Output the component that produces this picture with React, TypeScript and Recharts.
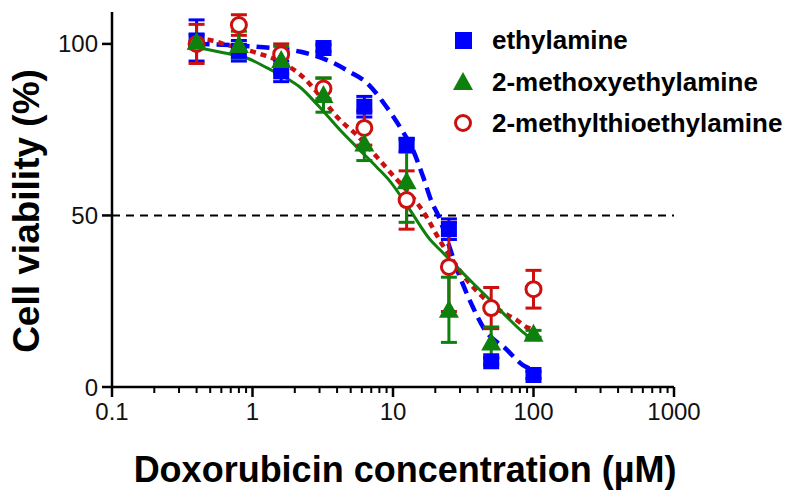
import React from 'react';
import { ComposedChart, XAxis, YAxis, Scatter, Line, ErrorBar, ReferenceLine, Legend } from 'recharts';

// concentrations (µM)
const concentrations = [0.4, 0.8, 1.6, 3.2, 6.25, 12.5, 25, 50, 100];

// measured means and error
const ethylamineMean = [101, 98, 92, 98.8, 81.7, 70.5, 46, 7.5, 3.5];
const ethylamineErr = [6, 3, 3, 1, 3, 2, 3, 1, 1];
const methoxyMean = [100.6, 99.7, 95.3, 85.1, 71, 60, 22.5, 13, 15.5];
const methoxyErr = [2, 4, 4, 5, 5, 12, 9.5, 4.5, 1];
const methylthioMean = [100, 105.5, 97, 87, 75.5, 54.5, 35, 23, 28.5];
const methylthioErr = [5.7, 3, 3, 3, 5, 8.5, 13, 6, 5.5];

// fitted curves
const ethylamineFitX = [0.4, 1.2, 2.2, 3.74, 4.94, 6.53, 8.5, 11.2, 13.9, 16.4, 19, 20.6, 30, 37, 43.7, 64.7, 84, 100];
const ethylamineFitY = [100, 99, 97.7, 94.5, 91.8, 88.6, 83, 75.8, 69, 61.2, 53.6, 50.7, 32, 23.3, 17.5, 10.8, 6.4, 5];
const methoxyFitX = [0.4, 0.62, 0.91, 1.27, 1.75, 2.16, 3.0, 4.2, 5.5, 7.7, 9.5, 13.2, 18.4, 21.6, 28.4, 37, 49, 64.7, 84, 100];
const methoxyFitY = [99, 97.4, 95.9, 93, 90, 87.5, 81.6, 74.9, 70, 64, 60, 51.6, 42.9, 40, 35, 30.3, 25.4, 20.4, 16, 13.7];
const methylthioFitX = [0.4, 0.515, 0.66, 1.19, 1.49, 2.4, 2.78, 4.2, 5.5, 7.7, 9.0, 17.5, 21.4, 26.5, 31.4, 37, 57, 76, 89, 100];
const methylthioFitY = [101.5, 101, 99.7, 96.8, 95.3, 89.5, 86.6, 77.8, 73.5, 67, 63.8, 49.3, 42.9, 37, 32.7, 29.2, 22.4, 19.5, 17.5, 16.8];

// axis ticks
const xMajorTicks = [0.1, 1, 10, 100, 1000];
const xMinorTicks = [0.2, 0.3, 0.4, 0.5, 0.6, 0.7, 0.8, 0.9, 2, 3, 4, 5, 6, 7, 8, 9, 20, 30, 40, 50, 60, 70, 80, 90, 200, 300, 400, 500, 600, 700, 800, 900];
const yTicks = [0, 50, 100];

const seriesNames = ['ethylamine', '2-methoxyethylamine', '2-methylthioethylamine'];
const BLUE = '#0000ff';
const GREEN = '#0e800e';
const RED = '#cc1010';
const FONT = '"Liberation Sans", Arial, Helvetica, sans-serif';

const points = (xs: number[], ys: number[], es?: number[]) =>
  xs.map((x, i) => ({ x, y: ys[i], err: es ? es[i] : 0 }));

const ethylaminePts = points(concentrations, ethylamineMean, ethylamineErr);
const methoxyPts = points(concentrations, methoxyMean, methoxyErr);
const methylthioPts = points(concentrations, methylthioMean, methylthioErr);
const ethylamineFit = points(ethylamineFitX, ethylamineFitY);
const methoxyFit = points(methoxyFitX, methoxyFitY);
const methylthioFit = points(methylthioFitX, methylthioFitY);

const allXTicks = [...xMajorTicks, ...xMinorTicks].sort((a, b) => a - b);

const XTick = (props: any) => {
  const { x, y, payload } = props;
  const v = payload.value;
  const major = xMajorTicks.includes(v);
  return (
    <g>
      <line x1={x} x2={x} y1={y} y2={y + (major ? 10 : 6)} stroke="#000" strokeWidth={major ? 2.5 : 2} />
      {major && (
        <text x={x} y={y + 33} textAnchor="middle" fontSize={24} fontFamily={FONT} fill="#111">
          {String(v)}
        </text>
      )}
    </g>
  );
};

const YTick = (props: any) => {
  const { x, y, payload } = props;
  return (
    <g>
      <line x1={x - 10} x2={x} y1={y} y2={y} stroke="#000" strokeWidth={2.5} />
      <text x={x - 14} y={y + 8.5} textAnchor="end" fontSize={24} fontFamily={FONT} fill="#111">
        {String(payload.value)}
      </text>
    </g>
  );
};

const XLabel = () => (
  <text x={405} y={482} textAnchor="middle" fontSize={36} fontWeight="bold" fontFamily={FONT} fill="#000">
    Doxorubicin concentration (µM)
  </text>
);

const YLabel = () => (
  <text
    x={39}
    y={211}
    textAnchor="middle"
    fontSize={37}
    fontWeight="bold"
    fontFamily={FONT}
    fill="#000"
    transform="rotate(-90, 39, 211)"
  >
    Cell viability (%)
  </text>
);

const Square = (props: any) => {
  const { cx, cy } = props;
  if (cx == null || cy == null) return null;
  return <rect x={cx - 8} y={cy - 8} width={16} height={16} fill={BLUE} />;
};
const Triangle = (props: any) => {
  const { cx, cy } = props;
  if (cx == null || cy == null) return null;
  return <polygon points={`${cx},${cy - 10} ${cx + 10},${cy + 8} ${cx - 10},${cy + 8}`} fill={GREEN} />;
};
const Circle = (props: any) => {
  const { cx, cy } = props;
  if (cx == null || cy == null) return null;
  return <circle cx={cx} cy={cy} r={7.5} fill="#fff" stroke={RED} strokeWidth={3} />;
};

const renderLegend = () => (
  <svg width={350} height={130} style={{ overflow: 'visible' }}>
    <rect x={15} y={14} width={17} height={17} fill={BLUE} />
    <text x={52} y={31} fontSize={26} fontWeight="bold" fontFamily={FONT} fill="#000">{seriesNames[0]}</text>
    <polygon points={`23,54 33,72 13,72`} fill={GREEN} />
    <text x={52} y={73} fontSize={26} fontWeight="bold" fontFamily={FONT} fill="#000">{seriesNames[1]}</text>
    <circle cx={23} cy={105} r={7.5} fill="#fff" stroke={RED} strokeWidth={3} />
    <text x={52} y={114} fontSize={26} fontWeight="bold" fontFamily={FONT} fill="#000">{seriesNames[2]}</text>
  </svg>
);

export default function App() {
  return (
    <div style={{ position: 'absolute', left: 0, top: 0, width: 800, height: 502, background: '#fff' }}>
      <ComposedChart width={800} height={502} margin={{ top: 12, right: 126, bottom: 0, left: 0 }}>
        <XAxis
          dataKey="x"
          type="number"
          scale="log"
          domain={[0.1, 1000]}
          ticks={allXTicks}
          interval={0}
          tick={<XTick />}
          tickLine={false}
          tickSize={0}
          tickMargin={0}
          axisLine={{ stroke: '#000', strokeWidth: 2.5 }}
          height={115}
          allowDataOverflow
          label={<XLabel />}
        />
        <YAxis
          type="number"
          domain={[0, 109.3]}
          ticks={yTicks}
          interval={0}
          tick={<YTick />}
          tickLine={false}
          tickSize={0}
          tickMargin={0}
          axisLine={{ stroke: '#000', strokeWidth: 2.5 }}
          width={112}
          allowDataOverflow
          label={<YLabel />}
        />
        <ReferenceLine y={50} stroke="#000" strokeWidth={2} strokeDasharray="8 6" />
        <Line data={ethylamineFit} dataKey="y" type="monotone" stroke={BLUE} strokeWidth={4.5} strokeDasharray="13 7" dot={false} activeDot={false} isAnimationActive={false} />
        <Line data={methylthioFit} dataKey="y" type="monotone" stroke={RED} strokeWidth={4.5} strokeDasharray="6 5" dot={false} activeDot={false} isAnimationActive={false} />
        <Line data={methoxyFit} dataKey="y" type="monotone" stroke={GREEN} strokeWidth={3} dot={false} activeDot={false} isAnimationActive={false} />
        <Scatter data={ethylaminePts} dataKey="y" shape={<Square />} isAnimationActive={false}>
          <ErrorBar dataKey="err" direction="y" width={8} strokeWidth={3} stroke={BLUE} />
        </Scatter>
        <Scatter data={methylthioPts} dataKey="y" shape={<Circle />} isAnimationActive={false}>
          <ErrorBar dataKey="err" direction="y" width={8} strokeWidth={3} stroke={RED} />
        </Scatter>
        <Scatter data={methoxyPts} dataKey="y" shape={<Triangle />} isAnimationActive={false}>
          <ErrorBar dataKey="err" direction="y" width={8} strokeWidth={3} stroke={GREEN} />
        </Scatter>
        <Legend
          content={renderLegend}
          layout="horizontal"
          verticalAlign="middle"
          align="center"
          wrapperStyle={{ left: 440, top: 18, width: 350, height: 130 }}
        />
      </ComposedChart>
    </div>
  );
}
